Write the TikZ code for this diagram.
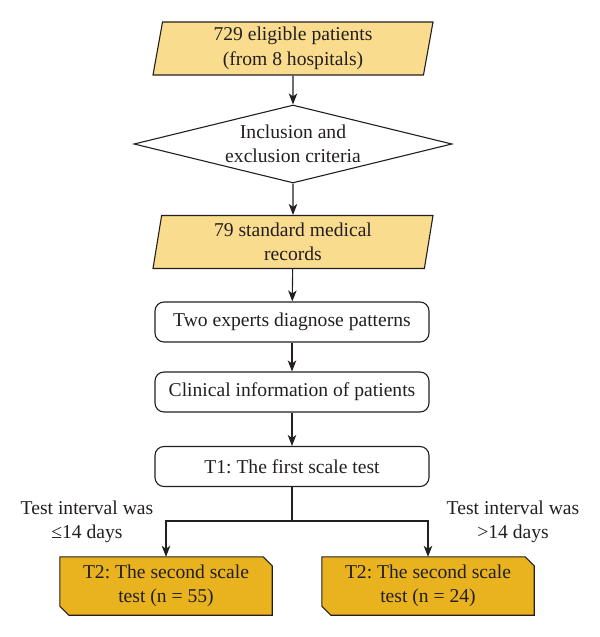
\documentclass[tikz,border=0pt]{standalone}
\usepackage{fontspec}
\setmainfont{Liberation Serif}
\frenchspacing
\usetikzlibrary{shapes.geometric,arrows.meta,calc}
\pgfdeclarelayer{bg}
\pgfsetlayers{bg,main}
\definecolor{lightgold}{HTML}{F9DC8D}
\definecolor{darkgold}{HTML}{E8B31E}
\definecolor{ink}{HTML}{231F20}
\begin{document}
\begin{tikzpicture}[x=1bp,y=-1bp,
  every node/.style={font=\fontsize{19.6bp}{24.5bp}\selectfont, text=ink, align=center, inner sep=0pt},
  pgram/.style={trapezium, trapezium left angle=77.3, trapezium right angle=102.7,
    trapezium stretches body, draw=ink, line width=1.1bp, fill=lightgold,
    minimum width=280bp, minimum height=53bp},
  decision/.style={diamond, aspect=4.08, draw=ink, line width=1.1bp, fill=white,
    minimum width=318bp, minimum height=78bp},
  roundbox/.style={rectangle, rounded corners=9bp, draw=ink, line width=1.1bp,
    minimum width=274bp, minimum height=40bp},
  outbox/.style={rectangle, minimum width=212bp, minimum height=58bp},
  outshape/.style={draw=ink, line width=1.1bp, fill=darkgold},
  flow/.style={draw=ink, line width=1.1bp, -{Stealth[length=11bp,width=8.5bp,inset=3bp]}},
  plain/.style={draw=ink, line width=1.1bp}]
\useasboundingbox (0,0) rectangle (600,637);
\node[pgram] (p1) at (293,48.5) {729 eligible patients\\(from 8 hospitals)};
\node[decision] (d1) at (293,144) {Inclusion and\\exclusion criteria};
\node[pgram] (p2) at (293,242) {79 standard medical\\records};
\node[roundbox] (b1) at (292,322) {Two experts diagnose patterns};
\node[roundbox] (b2) at (292,392) {Clinical information of patients};
\node[roundbox] (b3) at (292,466.5) {T1: The first scale test};
\coordinate (split) at (292,521);
\node[outbox] (o1) at (166,586) {T2: The second scale\\test (n = 55)};
\node[outbox] (o2) at (428,586) {T2: The second scale\\test (n = 24)};
\node (l1) at (87,522) {Test interval was\\≤14 days};
\node (l2) at (513,522) {Test interval was\\>14 days};
\begin{pgfonlayer}{bg}
\foreach \b in {o1,o2}{
  \path[outshape] (\b.north west) -- ($(\b.north east)+(-9,0)$) -- ($(\b.north east)+(0,9)$)
    -- (\b.south east) -- ($(\b.south west)+(9,0)$) -- ($(\b.south west)+(0,-9)$) -- cycle;
}
\end{pgfonlayer}
\draw[flow] (p1) -- (d1);
\draw[flow] (d1) -- (p2);
\draw[flow] (p2) -- (b1);
\draw[flow] (b1) -- (b2);
\draw[flow] (b2) -- (b3);
\draw[plain] (b3.south) -- (split);
\draw[flow] (split) -| (o1.north);
\draw[flow] (split) -| (o2.north);
\end{tikzpicture}
\end{document}
